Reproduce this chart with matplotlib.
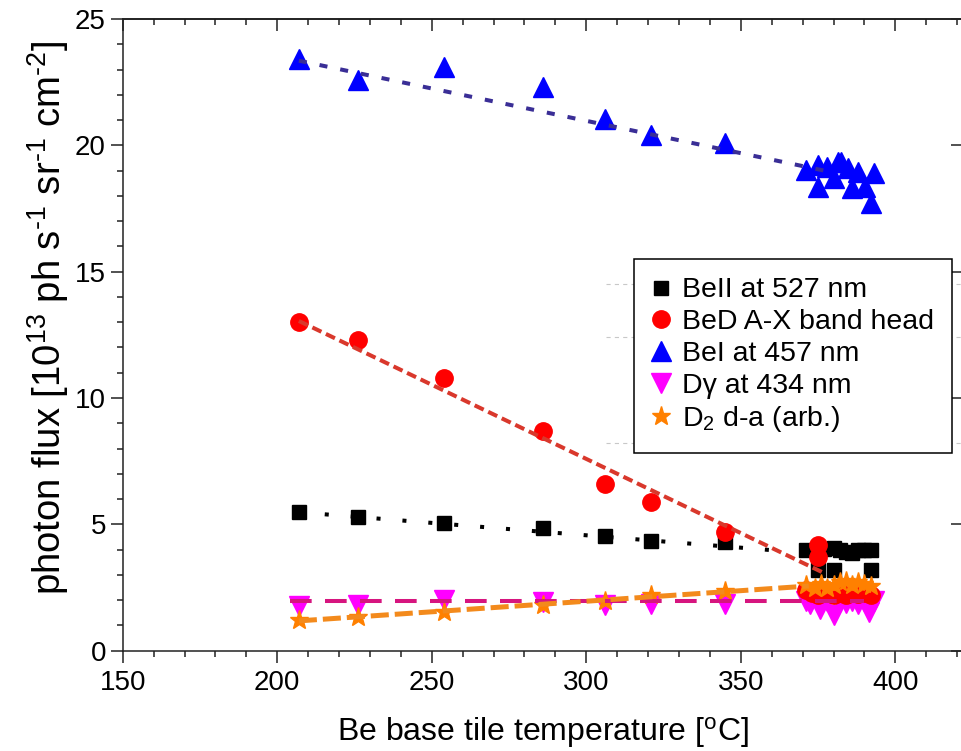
import matplotlib
matplotlib.use('Agg')
import matplotlib.pyplot as plt
from matplotlib.ticker import MultipleLocator, NullLocator

plt.rcParams['font.family'] = ['Liberation Sans', 'DejaVu Sans']
plt.rcParams['mathtext.default'] = 'regular'
plt.rcParams['lines.scale_dashes'] = False

# temperature scan (ramp) points, then the plateau cluster near 370-393 C
temp_scan = [207, 226, 254, 286, 306, 321, 345]

beii_scan = [5.48, 5.28, 5.07, 4.84, 4.53, 4.36, 4.30]
beii_x = [371, 375, 377, 380, 382, 384, 386, 388, 390, 392, 375, 380, 392]
beii_y = [3.97, 4.00, 4.02, 4.05, 3.98, 3.92, 3.85, 3.98, 4.00, 3.98, 3.20, 3.20, 3.20]

bed_scan = [13.0, 12.3, 10.8, 8.7, 6.6, 5.9, 4.7]
bed_x = [371, 373, 375, 375, 375, 377, 380, 382, 384, 386, 388, 390, 392]
bed_y = [2.40, 2.30, 4.20, 3.70, 2.20, 2.30, 2.20, 2.30, 2.20, 2.30, 2.25, 2.30, 2.20]

bei_scan = [23.4, 22.6, 23.1, 22.3, 21.05, 20.4, 20.1]
bei_x = [371, 375, 375, 378, 380, 381.3, 382.4, 384.8, 386, 388, 390.2, 393, 392]
bei_y = [19.02, 19.22, 18.36, 19.15, 18.69, 19.35, 19.35, 19.09, 18.30, 18.96, 18.36, 18.89, 17.70]

dg_scan = [1.78, 1.79, 2.00, 1.92, 1.82, 1.86, 1.86]
dg_x = [371, 372.5, 375.7, 378, 380.2, 382, 384, 386, 388, 390, 391.6, 393]
dg_y = [1.97, 1.85, 1.65, 1.95, 1.40, 1.95, 1.90, 1.95, 1.85, 1.95, 1.53, 1.95]

d2_scan = [1.20, 1.32, 1.54, 1.80, 1.97, 2.22, 2.35]
d2_x = [371, 374, 376, 378, 380, 382, 384, 386, 388, 390, 392]
d2_y = [2.60, 2.50, 2.65, 2.50, 2.60, 2.70, 2.75, 2.60, 2.70, 2.65, 2.55]

# linear fits over the ramp
beii_fit_x, beii_fit_y = [207, 365], [5.48, 3.93]
bed_fit_x, bed_fit_y = [207, 377], [13.05, 3.07]
bei_fit_x, bei_fit_y = [207, 377], [23.35, 19.0]
dg_fit_x, dg_fit_y = [204, 390], [1.97, 1.97]
d2_fit_x, d2_fit_y = [207, 372], [1.18, 2.56]

grid_y = [14.5, 12.4, 8.23]

labels = ['BeII at 527 nm', 'BeD A-X band head', 'BeI at 457 nm',
          'D\u03b3 at 434 nm', 'D$_2$ d-a (arb.)']

fig = plt.figure(figsize=(9.62, 7.51), dpi=100)
ax = fig.add_axes([122.7 / 962, 100.3 / 751, 840.3 / 962, 631.7 / 751])

ax.hlines(grid_y, 306.5, 425, colors='#c8c8c8', lw=0.8, linestyles=(0, (3, 3)), zorder=1)

h_beii, = ax.plot(temp_scan + beii_x, beii_scan + beii_y, ls='none', marker='s', ms=10,
                  color='black', zorder=3)
h_dg, = ax.plot(temp_scan + dg_x, dg_scan + dg_y, ls='none', marker='v', ms=14,
                color='#ff00ff', zorder=3)
h_bed, = ax.plot(temp_scan + bed_x, bed_scan + bed_y, ls='none', marker='o', ms=12.5,
                 color='#ff0000', zorder=3)
h_bei, = ax.plot(temp_scan + bei_x, bei_scan + bei_y, ls='none', marker='^', ms=14,
                 color='#0000ff', zorder=3)
h_d2, = ax.plot(temp_scan + d2_x, d2_scan + d2_y, ls='none', marker='*', ms=14,
                color='#ff8000', zorder=3)

ax.plot(beii_fit_x, beii_fit_y, color='black', lw=2.9, dashes=(2.9, 15.8),
        dash_capstyle='butt', zorder=4)
ax.plot(bed_fit_x, bed_fit_y, color='#d9382c', lw=2.9, dashes=(7.2, 3.6),
        dash_capstyle='butt', zorder=4)
ax.plot(bei_fit_x, bei_fit_y, color='#3a2e96', lw=2.9, dashes=(5.8, 9.4),
        dash_capstyle='butt', zorder=4)
ax.plot(dg_fit_x, dg_fit_y, color='#d6157f', lw=2.9, dashes=(15.6, 9.6),
        dash_capstyle='butt', zorder=4)
ax.plot(d2_fit_x, d2_fit_y, color='#f38a1c', lw=3.6, dashes=(13, 4.3),
        dash_capstyle='butt', zorder=4)

ax.set_xlim(150, 421.9)
ax.set_ylim(0, 25)
ax.xaxis.set_major_locator(MultipleLocator(50))
ax.xaxis.set_minor_locator(MultipleLocator(10))
ax.yaxis.set_major_locator(MultipleLocator(5))
ax.yaxis.set_minor_locator(MultipleLocator(1))
ax.tick_params(which='both', direction='out', width=1.1, labelsize=20, colors='#222222',
               labelcolor='black', top=False, right=False)
ax.tick_params(which='major', length=8.6)
ax.tick_params(which='minor', length=4.5)
ax.tick_params(axis='x', which='major', pad=5)
ax.tick_params(axis='y', which='major', pad=3.5)
for s in ax.spines.values():
    s.set_linewidth(1.1)
    s.set_color('#222222')

top = ax.secondary_xaxis('top')
top.xaxis.set_major_locator(MultipleLocator(50))
top.xaxis.set_minor_locator(MultipleLocator(10))
top.tick_params(which='both', direction='in', width=1.1, colors='#222222', labeltop=False)
top.tick_params(which='major', length=8.6)
top.tick_params(which='minor', length=4.5)
top.spines['top'].set_linewidth(1.1)

right = ax.secondary_yaxis('right')
right.yaxis.set_major_locator(MultipleLocator(5))
right.yaxis.set_minor_locator(NullLocator())
right.tick_params(which='major', direction='in', length=8.6, width=1.1,
                  colors='#222222', labelright=False)

ax.set_xlabel('Be base tile temperature [$^{o}$C]', fontsize=23, labelpad=14)
ax.set_ylabel('photon flux [10$^{13}$ ph s$^{\u20101}$ sr$^{\u20101}$ cm$^{\u20102}$]',
              fontsize=27.5)
ax.yaxis.set_label_coords(-0.062, 0.527)

leg = ax.legend([h_beii, h_bed, h_bei, h_dg, h_d2], labels, loc='upper left',
                bbox_to_anchor=(0.6088, 0.6201), borderaxespad=0, fontsize=20.5,
                fancybox=False, edgecolor='black', framealpha=1, borderpad=0.65,
                labelspacing=0.2, handlelength=0.55, handletextpad=0.47)
leg.get_frame().set_linewidth(1.1)
leg.set_zorder(5)

fig.savefig('out.png', dpi=100)
